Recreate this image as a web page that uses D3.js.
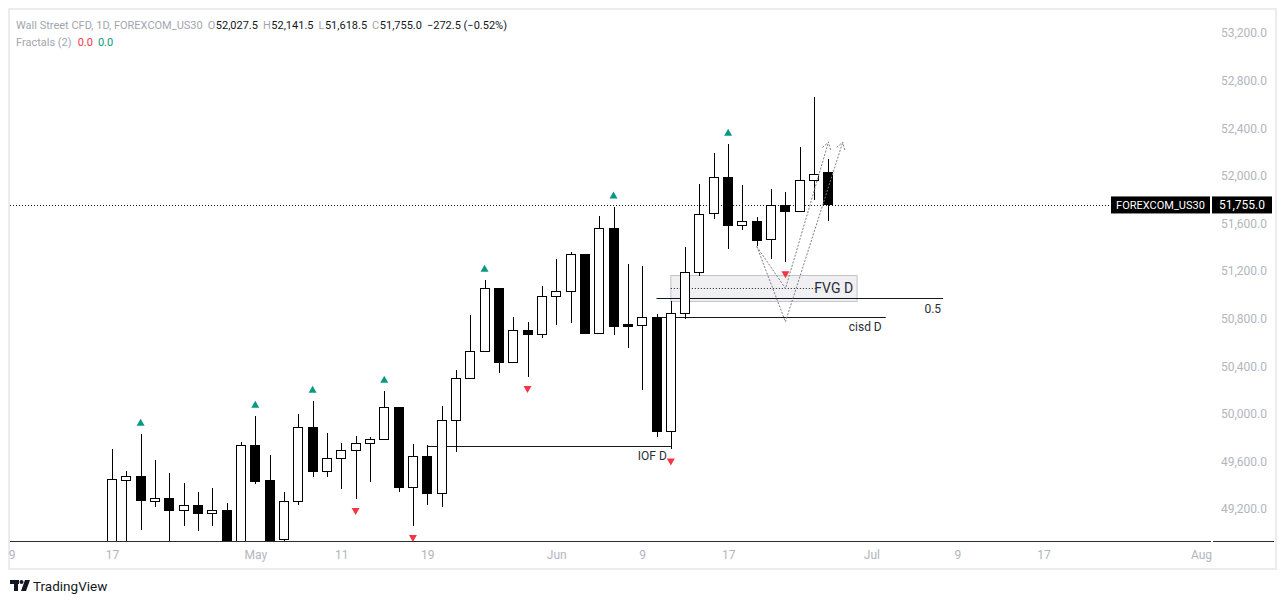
<!DOCTYPE html>
<html>
<head>
<meta charset="utf-8">
<script src="https://cdn.jsdelivr.net/npm/d3@7"></script>
<style>
  body { margin: 0; background: #ffffff; }
  svg { font-family: Roboto, "Noto Sans", sans-serif; }
</style>
</head>
<body>
<svg id="chart" width="1286" height="604"></svg>
<script>
// daily bars, index 0 = Apr 17
var opens  = [48800, 49443, 49477, 49266, 49292, 49191, 49233, 49166, 49185, 48850,
              49737, 49437, 48945, 49266, 49888, 49515, 49628, 49695, 49754, 49787,
              50056, 49384, 49645, 49330, 49947, 50300, 50527, 51056, 50431, 50703,
              50670, 50989, 51031, 51342, 50675, 51561, 50748, 50745, 50813, 49851,
              50846, 51189, 51687, 51989, 51586, 51619, 51468, 51754, 51703, 51958,
              52027.5];
var highs  = [49706, 49521, 49832, 49614, 49504, 49420, 49345, 49378, 49252, 49765,
              49983, 49656, 49345, 50000, 50109, 49840, 49756, 49815, 49807, 50193,
              50060, 49748, 49737, 50067, 50370, 50832, 51126, 51056, 50815, 50771,
              51076, 51303, 51361, 51342, 51658, 51742, 51261, 51244, 50835, 50944,
              51401, 51933, 52193, 52269, 51922, 51655, 51885, 51866, 52244, 52666,
              52141.5];
var lows   = [48700, 48800, 49020, 49221, 48850, 49061, 49011, 49061, 48800, 48800,
              49414, 48800, 48900, 49230, 49465, 49473, 49364, 49288, 49431, 49776,
              49339, 49061, 49230, 49213, 49683, 50300, 50527, 50347, 50426, 50313,
              50636, 50748, 50767, 50670, 50675, 50664, 50557, 50202, 49809, 49704,
              50796, 51162, 51641, 51381, 51544, 51406, 51303, 51277, 51703, 51798,
              51618.5];
var closes = [49445, 49477, 49272, 49292, 49191, 49233, 49162, 49185, 48850, 49737,
              49431, 48880, 49266, 49888, 49515, 49628, 49695, 49754, 49787, 50056,
              49384, 49645, 49330, 49947, 50300, 50527, 51056, 50431, 50703, 50670,
              50989, 51031, 51342, 50675, 51561, 50737, 50737, 50813, 49851, 50846,
              51191, 51678, 51989, 51586, 51619, 51456, 51750, 51703, 51958, 52014,
              51755];

var tickIdx    = [-7, 0, 10, 16, 22, 31, 37, 43, 53, 59, 65, 76];
var tickLabels = ["9", "17", "May", "11", "19", "Jun", "9", "17", "Jul", "9", "17", "Aug"];
var priceTicks = [49200, 49600, 50000, 50400, 50800, 51200, 51600, 52000, 52400, 52800, 53200];

var upFractals   = [2, 10, 14, 19, 26, 35, 43];
var downFractals = [17, 21, 29, 39, 47];

var symbol = "FOREXCOM_US30";
var lastPrice = 51755;

// drawings
var iofLevel = 49730, iofFrom = 22, iofTo = 39;
var fvgTop = 51162, fvgBottom = 50944, fvgFrom = 39, fvgTo = 52;
var halfLevel = 50972, halfFrom = 38, halfTo = 58;
var cisdLevel = 50813, cisdFrom = 38, cisdTo = 54;
var pathA = [[45, 51406], [47, 51053], [50, 52283]];
var pathB = [[45, 51406], [47, 50773], [51, 52283]];

var svg = d3.select("#chart");

var x = d3.scaleLinear().domain([0, 76]).range([112, 1201]);
var y = d3.scaleLinear().domain([49200, 53200]).range([509, 33]);

var plotLeft = 10, plotRight = 1211, plotTop = 10, plotBottom = 541;

// frame
svg.append("rect")
    .attr("x", 9).attr("y", 9)
    .attr("width", 1267).attr("height", 560)
    .attr("fill", "#ffffff")
    .attr("stroke", "#ebebf0")
    .attr("stroke-width", 2);

svg.append("clipPath").attr("id", "plotclip")
  .append("rect")
    .attr("x", plotLeft).attr("y", plotTop)
    .attr("width", plotRight - plotLeft).attr("height", plotBottom - plotTop);

var plot = svg.append("g").attr("clip-path", "url(#plotclip)");

// last price dotted line
plot.append("line")
    .attr("x1", plotLeft).attr("x2", 1110)
    .attr("y1", Math.round(y(lastPrice)) + 0.5).attr("y2", Math.round(y(lastPrice)) + 0.5)
    .attr("stroke", "#131722")
    .attr("stroke-dasharray", "1,2");

// FVG box
var fvg = plot.append("g");
fvg.append("rect")
    .attr("x", x(fvgFrom)).attr("y", y(fvgTop))
    .attr("width", x(fvgTo) - x(fvgFrom))
    .attr("height", y(fvgBottom) - y(fvgTop))
    .attr("fill", "#f0f0f3")
    .attr("stroke", "#c3c3c7");
fvg.append("line")
    .attr("x1", x(fvgFrom)).attr("x2", x(fvgTo) - 41)
    .attr("y1", y((fvgTop + fvgBottom) / 2)).attr("y2", y((fvgTop + fvgBottom) / 2))
    .attr("stroke", "#131722")
    .attr("stroke-dasharray", "1,2");
fvg.append("text")
    .attr("x", x(fvgTo) - 4)
    .attr("y", y((fvgTop + fvgBottom) / 2) + 5)
    .attr("text-anchor", "end")
    .style("font-size", "14px")
    .attr("fill", "#2a2e39")
    .text("FVG D");

// horizontal levels
function level(val, from, to, label, dx, dy) {
  var yy = Math.round(y(val)) + 0.5;
  plot.append("line")
      .attr("x1", x(from)).attr("x2", x(to))
      .attr("y1", yy).attr("y2", yy)
      .attr("stroke", "#131722");
  plot.append("text")
      .attr("x", x(to) + dx)
      .attr("y", yy + dy)
      .attr("text-anchor", "end")
      .style("font-size", "12px")
      .attr("fill", "#2a2e39")
      .text(label);
}
level(iofLevel, iofFrom, iofTo, "IOF D", -4, 13);
level(halfLevel, halfFrom, halfTo, "0.5", -2, 14);
level(cisdLevel, cisdFrom, cisdTo, "cisd D", -4, 13);

// candles
var idx = d3.range(opens.length);
var candles = plot.append("g").attr("shape-rendering", "crispEdges");

candles.selectAll(".wick")
  .data(idx)
  .enter()
  .append("line")
    .classed("wick", true)
    .attr("x1", i => Math.round(x(i)))
    .attr("x2", i => Math.round(x(i)))
    .attr("y1", i => y(highs[i]))
    .attr("y2", i => y(lows[i]))
    .attr("stroke", "#000000");

candles.selectAll(".body")
  .data(idx)
  .enter()
  .append("rect")
    .classed("body", true)
    .attr("x", i => Math.round(x(i)) - 4.5)
    .attr("width", 9)
    .attr("y", i => y(Math.max(opens[i], closes[i])))
    .attr("height", i => Math.max(1, Math.abs(y(opens[i]) - y(closes[i]))))
    .attr("fill", i => closes[i] >= opens[i] ? "#ffffff" : "#000000")
    .attr("stroke", "#000000");

// fractals
plot.selectAll(".up-fractal")
  .data(upFractals)
  .enter()
  .append("path")
    .classed("up-fractal", true)
    .attr("transform", i => "translate(" + x(i) + "," + (y(highs[i]) - 11.5) + ")")
    .attr("d", "M-4,3.5L4,3.5L0,-3.5Z")
    .attr("fill", "#089981");

plot.selectAll(".down-fractal")
  .data(downFractals)
  .enter()
  .append("path")
    .classed("down-fractal", true)
    .attr("transform", i => "translate(" + x(i) + "," + (y(lows[i]) + 13) + ")")
    .attr("d", "M-4,-3.5L4,-3.5L0,3.5Z")
    .attr("fill", "#f23645");

// projected paths
var pathLine = d3.line().x(d => x(d[0])).y(d => y(d[1]));
[pathA, pathB].forEach(function(p) {
  plot.append("path")
      .attr("d", pathLine(p))
      .attr("fill", "none")
      .attr("stroke", "#7b7e87")
      .attr("stroke-dasharray", "2,1.5");
  var a = p[p.length - 2], b = p[p.length - 1];
  var ax = x(a[0]), ay = y(a[1]), bx = x(b[0]), by = y(b[1]);
  var ang = Math.atan2(by - ay, bx - ax);
  var len = 8, spread = 0.55;
  var head = "M" + (bx - len * Math.cos(ang - spread)) + "," + (by - len * Math.sin(ang - spread)) +
             "L" + bx + "," + by +
             "L" + (bx - len * Math.cos(ang + spread)) + "," + (by - len * Math.sin(ang + spread));
  plot.append("path")
      .attr("d", head)
      .attr("fill", "none")
      .attr("stroke", "#7b7e87")
      .attr("stroke-dasharray", "2,1.5");
});

// x axis
svg.append("line")
    .attr("x1", plotLeft).attr("x2", plotRight)
    .attr("y1", plotBottom + 0.5).attr("y2", plotBottom + 0.5)
    .attr("stroke", "#2a2e39");
svg.append("line")
    .attr("x1", plotRight + 2).attr("x2", 1274)
    .attr("y1", plotBottom + 0.5).attr("y2", plotBottom + 0.5)
    .attr("stroke", "#2a2e39");

var xAxis = svg.append("g")
    .attr("transform", "translate(0," + plotBottom + ")")
    .call(d3.axisBottom(x)
      .tickValues(tickIdx)
      .tickFormat((d, i) => tickLabels[i])
      .tickSize(0)
      .tickPadding(9));
xAxis.select(".domain").remove();
xAxis.selectAll("text")
    .attr("fill", "#b2b5be")
    .style("font-size", "12px")
    .style("font-family", "Roboto, sans-serif");

// y axis
var yAxis = svg.append("g")
    .attr("transform", "translate(1267,0)")
    .call(d3.axisRight(y)
      .tickValues(priceTicks)
      .tickFormat(d3.format(",.1f"))
      .tickSize(0)
      .tickPadding(0));
yAxis.select(".domain").remove();
yAxis.selectAll("text")
    .attr("text-anchor", "end")
    .attr("x", 0)
    .attr("fill", "#b2b5be")
    .style("font-size", "12px")
    .style("font-family", "Roboto, sans-serif");

// last price labels
var py = y(lastPrice);
svg.append("rect")
    .attr("x", 1111).attr("y", py - 8.5)
    .attr("width", 99).attr("height", 17)
    .attr("fill", "#000000");
svg.append("text")
    .attr("x", 1160.5).attr("y", py + 4.5)
    .attr("text-anchor", "middle")
    .attr("fill", "#ffffff")
    .style("font-size", "11px")
    .text(symbol);
svg.append("rect")
    .attr("x", 1212).attr("y", py - 8.5)
    .attr("width", 60).attr("height", 17)
    .attr("fill", "#000000");
svg.append("text")
    .attr("x", 1242).attr("y", py + 4.5)
    .attr("text-anchor", "middle")
    .attr("fill", "#ffffff")
    .style("font-size", "12px")
    .text(d3.format(",.1f")(lastPrice));

// legend / header, laid out one piece after another
var fmt = d3.format(",.1f");
var last = opens.length - 1;
var grey = "#a3a6af", ink = "#131722";
function legendRow(items, yPos) {
  var g = svg.append("g").style("font-size", "11px");
  var cx = 16;
  items.forEach(function(it) {
    var t = g.append("text")
        .attr("x", cx)
        .attr("y", yPos)
        .attr("fill", it.c)
        .text(it.t);
    cx += t.node().getComputedTextLength() + it.gap;
  });
}
legendRow([
  {t: "Wall Street CFD, 1D, FOREXCOM_US30", c: grey, gap: 5},
  {t: "O", c: grey, gap: 0.5},
  {t: fmt(opens[last]), c: ink, gap: 5},
  {t: "H", c: grey, gap: 0.5},
  {t: fmt(highs[last]), c: ink, gap: 5},
  {t: "L", c: grey, gap: 0.5},
  {t: fmt(lows[last]), c: ink, gap: 5},
  {t: "C", c: grey, gap: 0.5},
  {t: fmt(closes[last]), c: ink, gap: 5},
  {t: "\u2212272.5 (\u22120.52%)", c: ink, gap: 0}
], 29);
legendRow([
  {t: "Fractals (2)", c: grey, gap: 6},
  {t: "0.0", c: "#f23645", gap: 5},
  {t: "0.0", c: "#089981", gap: 0}
], 46);

// TradingView mark
var logo = svg.append("g").attr("fill", "#131722");
logo.append("rect").attr("x", 10).attr("y", 580).attr("width", 9).attr("height", 4);
logo.append("rect").attr("x", 14).attr("y", 580).attr("width", 4).attr("height", 11);
logo.append("circle").attr("cx", 21.5).attr("cy", 582).attr("r", 2);
logo.append("path").attr("d", "M25,580L30,580L26,591L21,591Z");
svg.append("text")
    .attr("x", 33).attr("y", 591)
    .attr("fill", "#131722")
    .style("font-size", "13.5px")
    .text("TradingView");
</script>
</body>
</html>
